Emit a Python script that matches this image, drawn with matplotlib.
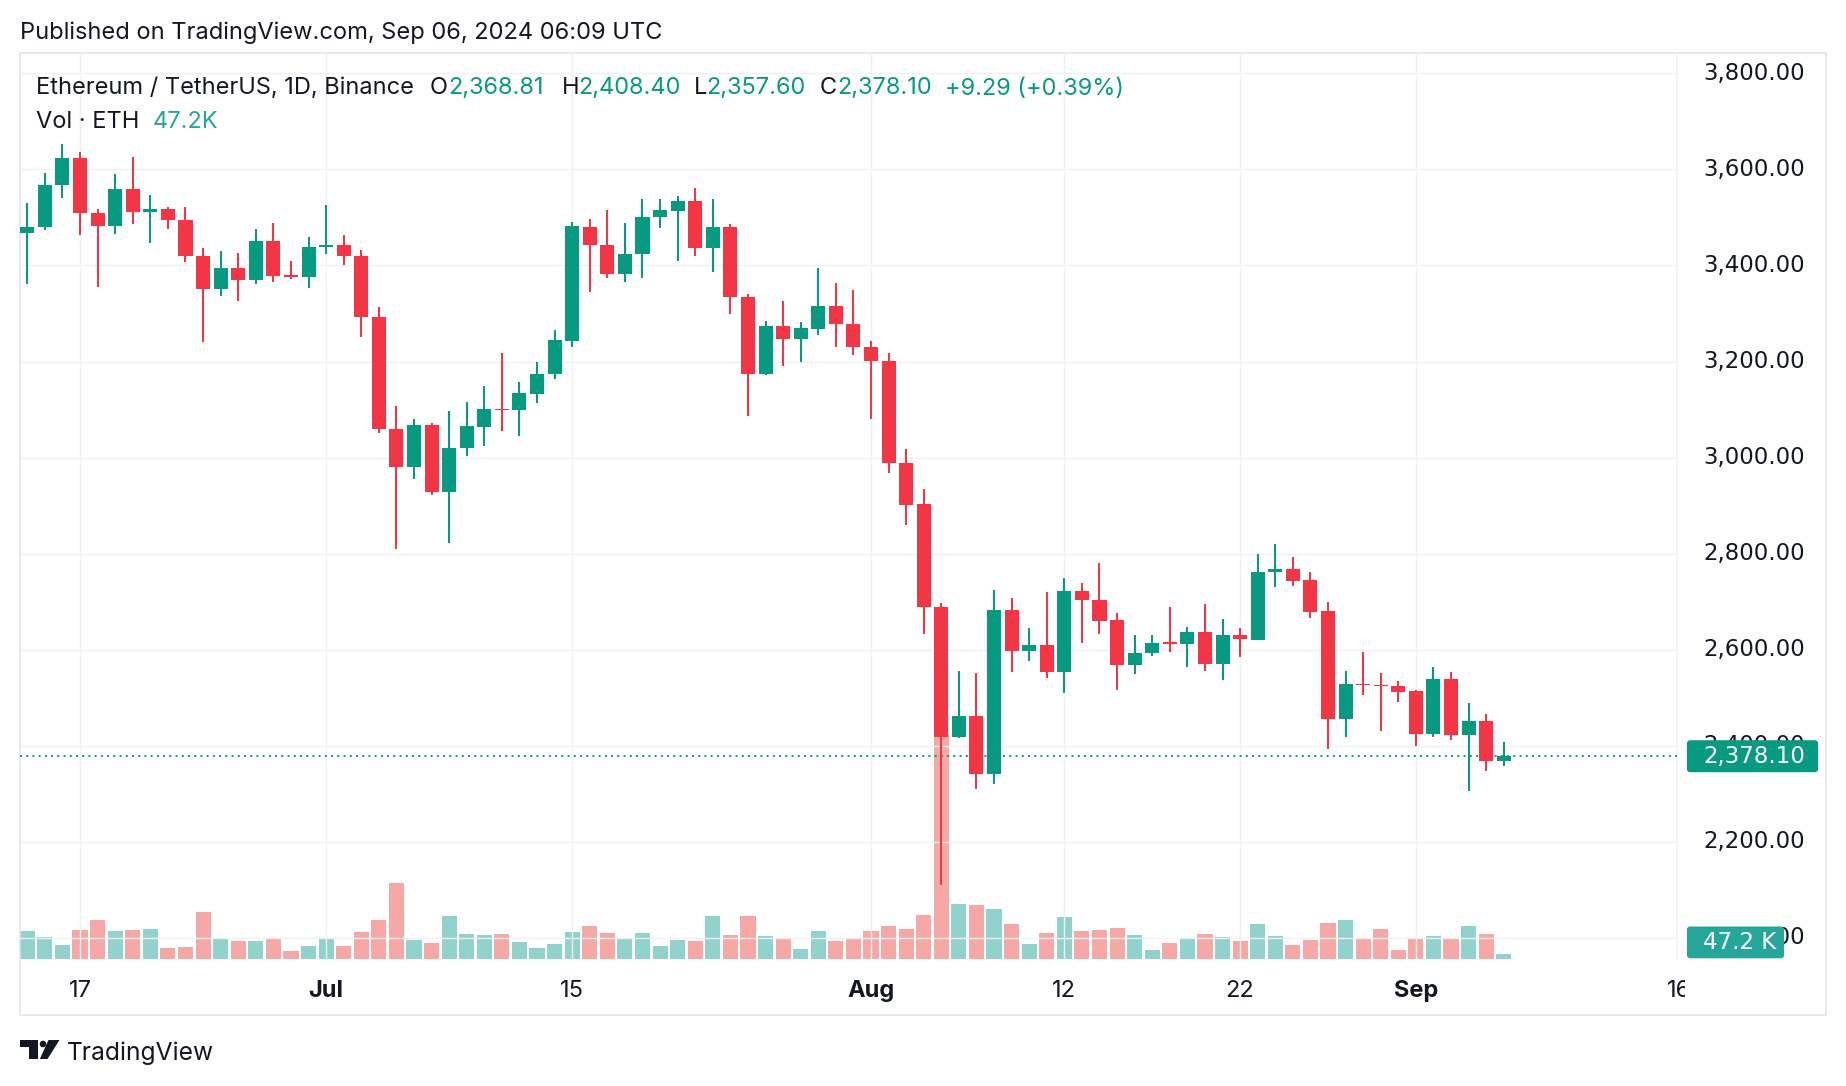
import matplotlib
matplotlib.use('Agg')
import matplotlib.pyplot as plt
from matplotlib import patches, transforms
from matplotlib.lines import Line2D
import numpy as np
import pandas as pd

# daily ETH/USDT candles, 2024-06-14 .. 2024-09-06
opens = [3467, 3481, 3568, 3623, 3510, 3482, 3560, 3511, 3517, 3495,
         3420, 3351, 3394, 3369, 3450, 3380, 3377, 3439, 3442, 3420,
         3293, 3059, 2981, 3068, 2929, 3019, 3064, 3102, 3099, 3133,
         3174, 3243, 3481, 3442, 3383, 3423, 3500, 3514, 3534, 3437,
         3480, 3334, 3173, 3273, 3246, 3268, 3316, 3279, 3231, 3201,
         2988, 2903, 2689, 2418, 2461, 2342, 2682, 2598, 2610, 2554,
         2722, 2703, 2661, 2568, 2592, 2615, 2611, 2637, 2570, 2631,
         2621, 2762, 2768, 2745, 2680, 2456, 2529, 2527, 2525, 2513,
         2424, 2539, 2422, 2451, 2368.81]
highs = [3531, 3593, 3652, 3637, 3517, 3590, 3625, 3546, 3521, 3521,
         3436, 3430, 3425, 3475, 3488, 3409, 3459, 3525, 3463, 3432,
         3313, 3107, 3080, 3072, 3096, 3115, 3150, 3217, 3157, 3200,
         3266, 3491, 3497, 3515, 3488, 3538, 3538, 3545, 3561, 3538,
         3486, 3341, 3285, 3327, 3283, 3395, 3364, 3350, 3242, 3217,
         3018, 2935, 2697, 2556, 2552, 2724, 2708, 2645, 2720, 2749,
         2738, 2780, 2676, 2631, 2631, 2689, 2647, 2695, 2664, 2645,
         2799, 2820, 2793, 2762, 2699, 2556, 2595, 2551, 2535, 2516,
         2564, 2554, 2489, 2466, 2408.40]
lows = [3361, 3474, 3540, 3463, 3356, 3465, 3486, 3446, 3475, 3407,
        3241, 3337, 3326, 3361, 3365, 3371, 3353, 3423, 3400, 3251,
        3051, 2810, 2956, 2923, 2823, 3003, 3024, 3055, 3045, 3113,
        3163, 3231, 3345, 3374, 3366, 3374, 3478, 3410, 3420, 3387,
        3298, 3086, 3171, 3190, 3198, 3256, 3231, 3213, 3080, 2968,
        2860, 2632, 2110, 2415, 2310, 2320, 2554, 2577, 2542, 2510,
        2613, 2633, 2516, 2549, 2587, 2595, 2564, 2556, 2537, 2585,
        2620, 2731, 2733, 2666, 2393, 2418, 2506, 2431, 2491, 2399,
        2418, 2412, 2306, 2347, 2357.60]
closes = [3481, 3568, 3623, 3510, 3482, 3560, 3511, 3517, 3495, 3420,
          3351, 3394, 3369, 3450, 3378, 3377, 3438, 3443, 3420, 3293,
          3059, 2981, 3068, 2929, 3020, 3065, 3101, 3099, 3134, 3175,
          3244, 3482, 3442, 3383, 3424, 3501, 3515, 3534, 3437, 3480,
          3334, 3173, 3273, 3246, 3269, 3316, 3278, 3230, 3201, 2988,
          2902, 2688, 2418, 2461, 2342, 2682, 2598, 2610, 2554, 2722,
          2703, 2660, 2568, 2593, 2614, 2612, 2637, 2570, 2631, 2622,
          2762, 2768, 2744, 2679, 2456, 2528, 2527, 2525, 2512, 2424,
          2539, 2422, 2451, 2368.81, 2378.10]
# volume in thousand ETH
volumes = [264, 208, 132, 274, 368, 264, 274, 283, 104, 113,
           444, 198, 170, 170, 189, 76, 123, 189, 123, 255,
           368, 718, 180, 151, 406, 236, 227, 236, 161, 104,
           142, 255, 312, 246, 198, 246, 123, 180, 170, 406,
           227, 406, 217, 198, 94, 264, 170, 198, 264, 312,
           283, 416, 2120, 520, 510, 472, 331, 142, 246, 397,
           264, 274, 293, 227, 85, 151, 189, 236, 208, 170,
           331, 217, 132, 180, 340, 368, 198, 283, 85, 189,
           217, 189, 312, 236, 47.2]

start_date = '2024-06-14'
tick_dates = ['2024-06-17', '2024-07-01', '2024-07-15', '2024-08-01',
              '2024-08-12', '2024-08-22', '2024-09-01', '2024-09-16']
tick_labels = ['17', 'Jul', '15', 'Aug', '12', '22', 'Sep', '16']
month_labels = ['Jul', 'Aug', 'Sep']
price_ticks = [2000, 2200, 2400, 2600, 2800, 3000, 3200, 3400, 3600, 3800]

UP = '#089981'
DOWN = '#f23645'
VOL_UP = '#26a69a'
VOL_DOWN = '#ef5350'
TXT = '#131722'
GRID = '#f0f1f3'
FRAME = '#e0e3eb'

W, H = 1846, 1086
fig = plt.figure(figsize=(W / 100, H / 100), dpi=100)
fig.patch.set_facecolor('white')


def rect(x0, y0, x1, y1):
    # pixel box measured from the top-left corner -> figure fraction
    return [x0 / W, 1 - y1 / H, (x1 - x0) / W, (y1 - y0) / H]


PLOT = (20, 53, 1677, 959)
ax_vol = fig.add_axes(rect(*PLOT))
ax = fig.add_axes(rect(*PLOT))
ax.set_zorder(2)
ax.patch.set_visible(False)

o = np.array(opens)
h = np.array(highs)
l = np.array(lows)
c = np.array(closes)
v = np.array(volumes)
x = np.arange(len(o))
dates = pd.date_range(start_date, periods=len(o), freq='D')
tick_pos = [(pd.Timestamp(d) - dates[0]).days for d in tick_dates]

up = c >= o
cols = np.where(up, UP, DOWN)
vcols = [matplotlib.colors.to_rgba(VOL_UP if u else VOL_DOWN, 0.5) for u in up]

day_px = 17.577
x0_px = 27.3
xlim = ((PLOT[0] - x0_px) / day_px, (PLOT[2] - x0_px) / day_px)
for a in (ax, ax_vol):
    a.set_xlim(*xlim)
    for s in a.spines.values():
        s.set_visible(False)
    a.tick_params(length=0, labelbottom=False, labelleft=False)
    a.set_xticks([])
    a.set_yticks([])

# volume pane
ax_vol.set_ylim(0, 906 * 9.44)
ax_vol.bar(x, v, width=0.86, color=vcols, linewidth=0)

# price pane
ax.set_ylim(1955.8, 3842.5)
for p in price_ticks:
    ax.axhline(p, color=GRID, lw=1.0, zorder=0)
for t in tick_pos:
    ax.axvline(t, color=GRID, lw=1.0, zorder=0)

ax.axhline(c[-1], color=UP, lw=1.4, ls=(0, (1, 2.2)), zorder=2.5)
ax.vlines(x, l, h, colors=cols, lw=1.45, zorder=3)
body = np.maximum(np.abs(c - o), 1.5)
ax.bar(x, body, bottom=np.minimum(o, c), width=0.8, color=cols, linewidth=0, zorder=4)

# price scale labels
blend = transforms.blended_transform_factory(ax.transAxes, ax.transData)
lab_x = (1703 - PLOT[0]) / (PLOT[2] - PLOT[0])
for p in price_ticks:
    ax.text(lab_x, p, f'{p:,.2f}', transform=blend, ha='left', va='center',
            fontsize=16.5, family='DejaVu Sans', color=TXT, clip_on=False)

ident = transforms.IdentityTransform()
y_last = ax.transData.transform((0, c[-1]))[1]
fig.add_artist(patches.FancyBboxPatch((1687, y_last - 16), 131, 32,
                                      boxstyle='round,pad=0,rounding_size=3',
                                      fc=UP, ec='none', transform=ident, zorder=10))
fig.text(1703, y_last, f'{c[-1]:,.2f}', transform=ident, ha='left', va='center',
         fontsize=16.5, family='DejaVu Sans', color='white', zorder=11)

fig.add_artist(patches.FancyBboxPatch((1687, H - 958.3), 97, 31.8,
                                      boxstyle='round,pad=0,rounding_size=3',
                                      fc=VOL_UP, ec='none', transform=ident, zorder=10))
fig.text(1703, H - 942.4, f'{v[-1]:.1f} K', transform=ident, ha='left', va='center',
         fontsize=16.5, family='DejaVu Sans', color='white', zorder=11)

# time axis (its labels are clipped a little past the price-scale edge)
T_RIGHT = 1685
ax_t = fig.add_axes(rect(20, 959, T_RIGHT, 1015))
ax_t.set_xlim(xlim[0], (T_RIGHT - x0_px) / day_px)
ax_t.set_ylim(0, 1)
ax_t.axis('off')
for t, lab in zip(tick_pos, tick_labels):
    ax_t.text(t, 0.42, lab, ha='center', va='center', fontsize=17,
              family='Inter', color=TXT, clip_on=True,
              fontweight='bold' if lab in month_labels else 'normal')

# frame and price-scale separator
fig.add_artist(patches.Rectangle((20, H - 1015), 1806, 962, fill=False,
                                 ec=FRAME, lw=1.1, transform=ident))
fig.add_artist(Line2D([1677, 1677], [H - 53, H - 959], color=GRID, lw=1.1,
                      transform=ident))

renderer = fig.canvas.get_renderer()


def fit_width(txt, target):
    w = txt.get_window_extent(renderer).width
    txt.set_fontsize(txt.get_fontsize() * target / w)


title = fig.text(20, H - 33, 'Published on TradingView.com, Sep 06, 2024 06:09 UTC',
                 transform=ident, ha='left', va='center', fontsize=15,
                 family='Inter', color=TXT)
fit_width(title, 643)

# legend line
LEG_Y = H - 88.5
VOL_Y = H - 121.5
sym = fig.text(36.5, LEG_Y, 'Ethereum / TetherUS, 1D, Binance', transform=ident,
               ha='left', va='center', fontsize=15, family='Inter', color=TXT)
fit_width(sym, 377.5)
fs = sym.get_fontsize()
pieces = [(429.7, 'O', TXT), (448.6, f'{o[-1]:,.2f}', UP),
          (561.6, 'H', TXT), (578, f'{h[-1]:,.2f}', UP),
          (693.4, 'L', TXT), (706, f'{l[-1]:,.2f}', UP),
          (819.4, 'C', TXT), (837, f'{c[-1]:,.2f}', UP),
          (945.4, f'+{c[-1] - o[-1]:.2f} (+{(c[-1] - o[-1]) / o[-1] * 100:.2f}%)', UP)]
for px, s, col in pieces:
    fig.text(px, LEG_Y, s, transform=ident, ha='left', va='center',
             fontsize=fs, family='Inter', color=col)
fig.text(36.5, VOL_Y, 'Vol · ETH', transform=ident, ha='left', va='center',
         fontsize=fs, family='Inter', color=TXT)
fig.text(153, VOL_Y, f'{v[-1]:.1f}K', transform=ident, ha='left', va='center',
         fontsize=fs, family='Inter', color=VOL_UP)

# TradingView logo
fig.add_artist(patches.Polygon([(20, H - 1040), (38.3, H - 1040), (38.3, H - 1059),
                                (28.5, H - 1059), (28.5, H - 1046.5), (20, H - 1046.5)],
                               closed=True, fc=TXT, ec='none', transform=ident))
fig.add_artist(patches.Circle((43, H - 1044), 3.3, fc=TXT, ec='none', transform=ident))
fig.add_artist(patches.Polygon([(48.5, H - 1040), (59.5, H - 1040), (47.5, H - 1059),
                                (39.8, H - 1059)],
                               closed=True, fc=TXT, ec='none', transform=ident))
brand = fig.text(67, H - 1060, 'TradingView', transform=ident, ha='left',
                 va='baseline', fontsize=17, family='Inter', color=TXT)
fit_width(brand, 147)

fig.savefig('out.png', dpi=100, facecolor='white')
